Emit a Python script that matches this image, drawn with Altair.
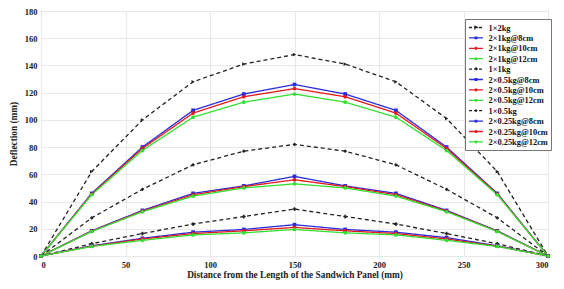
import altair as alt
import pandas as pd

x_mm = [0, 30, 60, 90, 120, 150, 180, 210, 240, 270, 300]

series_names = [
    "1×2kg", "2×1kg@8cm", "2×1kg@10cm", "2×1kg@12cm",
    "1×1kg", "2×0.5kg@8cm", "2×0.5kg@10cm", "2×0.5kg@12cm",
    "1×0.5kg", "2×0.25kg@8cm", "2×0.25kg@10cm", "2×0.25kg@12cm",
]

s_1x2kg = [0, 62, 100, 128, 141, 148, 141, 128, 101, 62, 0]
s_2x1kg_8 = [0, 46, 80, 107, 119, 126, 119, 107, 80, 46, 0]
s_2x1kg_10 = [0, 45.5, 79, 105, 117, 123, 117, 105, 79, 45.5, 0]
s_2x1kg_12 = [0, 45, 77.5, 102, 113, 119, 113, 102, 77.5, 45, 0]
s_1x1kg = [0, 28, 49, 67, 77, 82, 77, 67, 49, 28, 0]
s_2x05kg_8 = [0, 18.5, 33.5, 46, 51.5, 58.5, 51.5, 46, 33.5, 18.5, 0]
s_2x05kg_10 = [0, 18.2, 33, 45, 51, 56, 51, 45, 33, 18.2, 0]
s_2x05kg_12 = [0, 18, 32.5, 44, 50, 53, 50, 44, 32.5, 18, 0]
s_1x05kg = [0, 9, 16.5, 23.5, 29, 34.5, 29, 23.5, 16.5, 9, 0]
s_2x025kg_8 = [0, 7.5, 13, 17.5, 19.5, 23, 19.5, 17.5, 13.5, 7.5, 0]
s_2x025kg_10 = [0, 7.2, 12.5, 16.5, 18.5, 21, 18.5, 16.5, 12.5, 7.2, 0]
s_2x025kg_12 = [0, 7, 11.5, 15.5, 17, 19.5, 17, 15.5, 11.5, 7, 0]

all_values = [s_1x2kg, s_2x1kg_8, s_2x1kg_10, s_2x1kg_12,
              s_1x1kg, s_2x05kg_8, s_2x05kg_10, s_2x05kg_12,
              s_1x05kg, s_2x025kg_8, s_2x025kg_10, s_2x025kg_12]

rows = []
for name, vals in zip(series_names, all_values):
    for xv, yv in zip(x_mm, vals):
        rows.append({"series": name, "pt": name, "lg": name, "x": xv, "y": yv})
df = pd.DataFrame(rows)

BLACK = "#222222"
BLUE = "#2b2bdc"
RED = "#e41a1c"
GREEN = "#33e033"
colors = [BLACK, BLUE, RED, GREEN] * 3
dashes = [[4, 3], [1, 0], [1, 0], [1, 0]] * 3
legend_dashes = [[3, 2], [1, 0], [1, 0], [1, 0]] * 3
shapes = ["triangle-right", "square", "circle", "circle",
          "diamond", "square", "circle", "circle",
          "cross", "square", "circle", "circle"]

# legend symbols: a short line with a small marker in the middle
LINE = "M-1.55,0L1.55,0"
marker_paths = {
    "triangle-right": "M-0.2,-0.25L0.3,0L-0.2,0.25Z",
    "square": "M-0.18,-0.18L0.18,-0.18L0.18,0.18L-0.18,0.18Z",
    "circle": "M0.2,0A0.2,0.2 0 1,1 -0.2,0A0.2,0.2 0 1,1 0.2,0Z",
    "diamond": "M0,-0.25L0.25,0L0,0.25L-0.25,0Z",
    "cross": "M-0.3,0L0.3,0M0,-0.3L0,0.3",
}
legend_paths = [LINE + marker_paths[s] for s in shapes]

FONT = "Liberation Serif"

base = alt.Chart(df).encode(
    x=alt.X("x:Q", scale=alt.Scale(domain=[0, 300], nice=False),
            axis=alt.Axis(values=[0, 50, 100, 150, 200, 250, 300],
                          title="Distance from the Length of the Sandwich Panel (mm)")),
    y=alt.Y("y:Q", scale=alt.Scale(domain=[0, 180], nice=False),
            axis=alt.Axis(values=list(range(0, 181, 20)), title="Deflection (mm)")),
)

lines = base.mark_line(strokeWidth=1.3).encode(
    color=alt.Color("series:N", scale=alt.Scale(domain=series_names, range=colors), legend=None),
    strokeDash=alt.StrokeDash("series:N", scale=alt.Scale(domain=series_names, range=dashes),
                              legend=None),
    order=alt.Order("x:Q"),
)

points = base.mark_point(filled=True, size=14, opacity=1).encode(
    color=alt.Color("pt:N", scale=alt.Scale(domain=series_names, range=colors), legend=None),
    shape=alt.Shape("pt:N", scale=alt.Scale(domain=series_names, range=shapes), legend=None),
)

legend_spec = alt.Legend(title=None, orient="none", legendX=424, legendY=8,
                         symbolSize=81, symbolOffset=2.5, symbolOpacity=1,
                         symbolStrokeWidth=1.3,
                         labelFont=FONT, labelFontWeight="bold",
                         labelFontSize=8.4, labelColor="#111",
                         rowPadding=0.4, padding=3,
                         strokeColor="#777", fillColor="white",
                         labelOffset=7, labelLimit=100)

legend_layer = base.mark_point(filled=False, opacity=0, size=81, strokeWidth=1.3).encode(
    color=alt.Color("lg:N", scale=alt.Scale(domain=series_names, range=colors),
                    sort=series_names, legend=legend_spec),
    shape=alt.Shape("lg:N", scale=alt.Scale(domain=series_names, range=legend_paths),
                    sort=series_names, legend=legend_spec),
    strokeDash=alt.StrokeDash("lg:N", scale=alt.Scale(domain=series_names, range=legend_dashes),
                              sort=series_names, legend=legend_spec),
)

chart = alt.layer(lines, points, legend_layer).resolve_scale(
    color="independent", shape="independent", strokeDash="independent"
).properties(
    width=507, height=245,
    padding={"left": 33, "top": 3, "right": 8, "bottom": 25},
    autosize=alt.AutoSizeParams(type="none"),
).configure_view(
    stroke="#555", strokeWidth=1
).configure_axis(
    labelFont=FONT, labelFontWeight="bold", labelFontSize=8.5, labelColor="#222",
    titleFont=FONT, titleFontWeight="bold", titleFontSize=9.3, titleColor="#222",
    gridColor="#e8e8e8", domain=False, ticks=False, labelPadding=4,
).configure_axisX(titlePadding=2).configure_axisY(titlePadding=6)

chart.save("out.html", embed_options={"renderer": "svg", "actions": False})
